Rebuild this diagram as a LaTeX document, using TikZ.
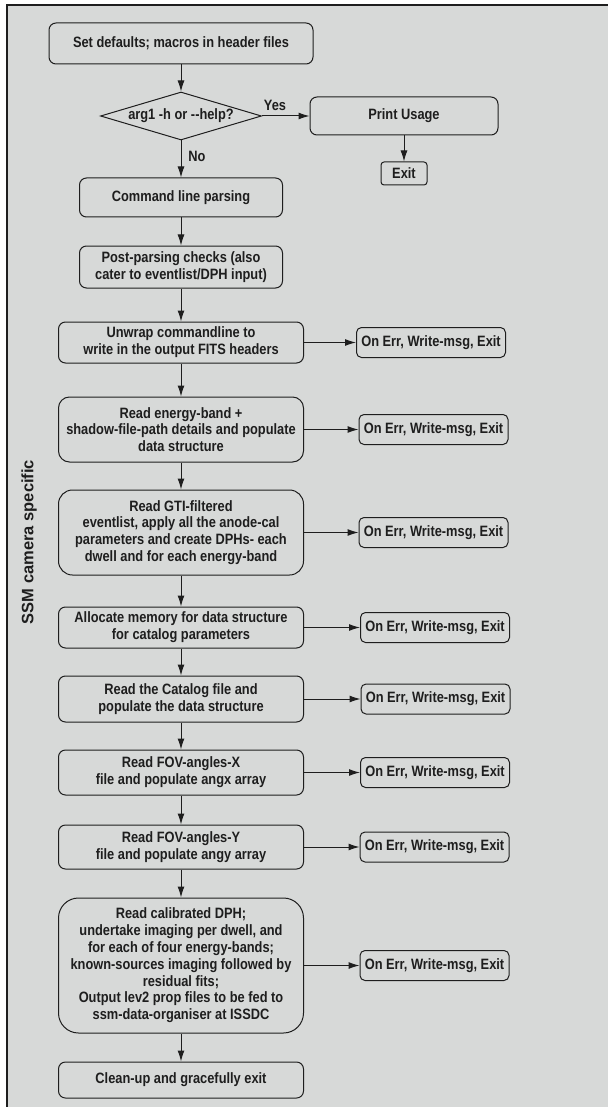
\documentclass[tikz,border=0pt]{standalone}
\usepackage{fontspec}
\setmainfont{Liberation Sans}[FakeStretch=0.855]
\newfontfamily\sidefont{Liberation Sans}
\usetikzlibrary{arrows.meta,shapes.geometric}

\definecolor{panelgrey}{HTML}{D7D9D8}
\definecolor{inkgrey}{HTML}{1E1E1E}

\tikzset{
	boxfont/.style={font={\bfseries\fontsize{15}{16.8}\selectfont}, text=inkgrey},
	procbox/.style={boxfont, draw=inkgrey, line width=1pt, fill=panelgrey, rounded corners=7pt, align=center, inner sep=2pt},
	decbox/.style={boxfont, draw=inkgrey, line width=1pt, fill=panelgrey, diamond, aspect=3.35, inner sep=0pt, minimum width=161pt, minimum height=48pt},
	errbox/.style={procbox, rounded corners=5pt, minimum width=149pt, minimum height=30pt},
	flow/.style={line width=1pt, draw=inkgrey, -{Latex[length=11pt,width=7pt]}},
}

\begin{document}
\begin{tikzpicture}[x=1pt, y=-1pt]
			%%%%% START %%%%%
			
			\useasboundingbox (0, 0) rectangle (607, 1107);
			\fill[white] (0, 0) rectangle (607, 1107);
			\fill[panelgrey] (7, 5) rectangle (615, 1115);
			\draw[line width=1.5pt, color=inkgrey] (7, 1115) -- (7, 5) -- (615, 5);
			
			\node[font={\sidefont\bfseries\fontsize{16.5}{18}\selectfont}, text=inkgrey, rotate=90] (camlbl) at (29, 542) {SSM camera specific};
			
			\node[procbox, minimum width=264pt, minimum height=41pt] (defaults) at (181, 43.5) {Set defaults; macros in header files};
			\node[decbox] (helpq) at (181, 116) {arg1 -h or {-}{-}help?};
			\node[procbox, minimum width=188pt, minimum height=38pt] (usage) at (404, 116) {Print Usage};
			\node[procbox, rounded corners=3pt, minimum width=46pt, minimum height=23pt, inner sep=1pt] (quit) at (404, 173.5) {Exit};
			
			\node[boxfont] (yeslbl) at (275, 105) {Yes};
			\node[boxfont] (nolbl) at (197, 156) {No};
			
			\node[procbox, minimum width=203pt, minimum height=39pt] (parse) at (181, 197.5) {Command line parsing};
			\node[procbox, minimum width=203pt, minimum height=42pt] (checks) at (181, 267) {Post-parsing checks (also\\cater to eventlist/DPH input)};
			
			\node[procbox, minimum width=245pt, minimum height=41pt] (unwrap) at (181, 342.5) {Unwrap commandline to\\write in the output FITS headers};
			\node[procbox, minimum width=245pt, minimum height=65pt, rounded corners=11pt] (energy) at (181, 429.5) {Read energy-band +\\shadow-file-path details and populate\\data structure};
			\node[procbox, minimum width=245pt, minimum height=85pt, rounded corners=14pt] (gti) at (181, 532.5) {Read GTI-filtered\\eventlist, apply all the anode-cal\\parameters and create DPHs- each\\dwell and for each energy-band};
			\node[procbox, minimum width=245pt, minimum height=41pt] (alloc) at (181, 627.5) {Allocate memory for data structure\\for catalog parameters};
			\node[procbox, minimum width=245pt, minimum height=46pt] (catalog) at (181, 699) {Read the Catalog file and\\populate the data structure};
			\node[procbox, minimum width=245pt, minimum height=45pt] (fovx) at (181, 772.5) {Read FOV-angles-X\\file and populate angx array};
			\node[procbox, minimum width=245pt, minimum height=44pt] (fovy) at (181, 847) {Read FOV-angles-Y\\file and populate angy array};
			\node[procbox, minimum width=245pt, minimum height=135pt, rounded corners=20pt] (calib) at (181, 965.5) {Read calibrated DPH;\\undertake imaging per dwell, and\\for each of four energy-bands;\\known-sources imaging followed by\\residual fits;\\Output lev2 prop files to be fed to\\ssm-data-organiser at ISSDC};
			\node[procbox, minimum width=245pt, minimum height=36pt] (cleanup) at (181, 1080) {Clean-up and gracefully exit};
			
			\node[errbox] (errA) at (431, 342.5) {On Err, Write-msg, Exit};
			\node[errbox] (errB) at (433.5, 429.5) {On Err, Write-msg, Exit};
			\node[errbox] (errC) at (433.5, 532.5) {On Err, Write-msg, Exit};
			\node[errbox] (errD) at (435, 627.5) {On Err, Write-msg, Exit};
			\node[errbox] (errE) at (435.5, 699) {On Err, Write-msg, Exit};
			\node[errbox] (errF) at (435, 772.5) {On Err, Write-msg, Exit};
			\node[errbox] (errG) at (434.5, 847) {On Err, Write-msg, Exit};
			\node[errbox] (errH) at (434.5, 965.5) {On Err, Write-msg, Exit};
			
			\draw[flow] (defaults) -- (helpq);
			\draw[flow] (helpq) -- (usage);
			\draw[flow] (usage) -- (quit);
			\draw[flow] (helpq) -- (parse);
			\draw[flow] (parse) -- (checks);
			\draw[flow] (checks) -- (unwrap);
			\draw[flow] (unwrap) -- (energy);
			\draw[flow] (energy) -- (gti);
			\draw[flow] (gti) -- (alloc);
			\draw[flow] (alloc) -- (catalog);
			\draw[flow] (catalog) -- (fovx);
			\draw[flow] (fovx) -- (fovy);
			\draw[flow] (fovy) -- (calib);
			\draw[flow] (calib) -- (cleanup);
			
			\draw[flow] (unwrap) -- (errA);
			\draw[flow] (energy) -- (errB);
			\draw[flow] (gti) -- (errC);
			\draw[flow] (alloc) -- (errD);
			\draw[flow] (catalog) -- (errE);
			\draw[flow] (fovx) -- (errF);
			\draw[flow] (fovy) -- (errG);
			\draw[flow] (calib) -- (errH);
			
			%%%%% END %%%%%
\end{tikzpicture}
\end{document}
